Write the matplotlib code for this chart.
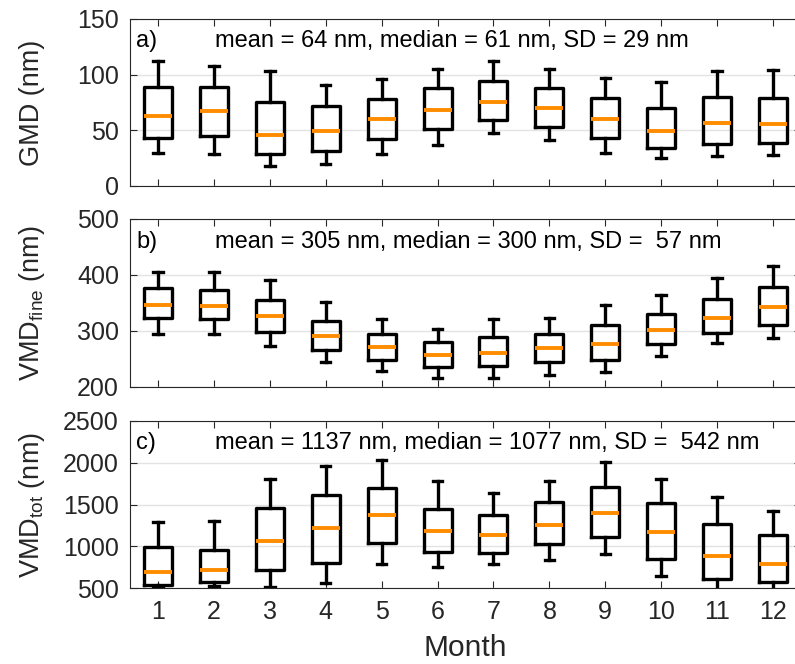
import numpy as np
import matplotlib
matplotlib.use("Agg")
import matplotlib.pyplot as plt

plt.rcParams['font.family'] = ['Liberation Sans', 'DejaVu Sans']
plt.rcParams['mathtext.fontset'] = 'custom'
plt.rcParams['mathtext.rm'] = 'Liberation Sans'

months = list(range(1, 13))

# GMD box statistics per month (nm): whisker low, Q1, median, Q3, whisker high
gmd_low = [30, 29, 18, 20, 29, 37, 48, 41, 30, 25, 27, 28]
gmd_q1 = [43, 45, 29, 31, 42, 51, 59, 53, 43, 34, 38, 39]
gmd_med = [63, 67, 46, 49, 60, 68, 75, 70, 60, 49, 57, 56]
gmd_q3 = [89, 89, 75, 72, 78, 88, 94, 88, 79, 70, 80, 79]
gmd_high = [112, 108, 103, 91, 96, 105, 112, 105, 97, 93, 103, 104]

# VMD fine mode
fine_low = [295, 295, 274, 245, 229, 216, 216, 221, 226, 255, 278, 287]
fine_q1 = [323, 321, 298, 266, 248, 235, 238, 245, 249, 277, 296, 311]
fine_med = [347, 345, 326, 291, 271, 258, 261, 269, 277, 301, 324, 342]
fine_q3 = [376, 373, 355, 317, 295, 281, 289, 294, 311, 331, 358, 378]
fine_high = [406, 406, 391, 352, 321, 304, 321, 324, 346, 364, 394, 416]

# VMD total
tot_low = [520, 520, 512, 556, 787, 747, 783, 831, 906, 647, 450, 480]
tot_q1 = [536, 572, 719, 803, 1034, 934, 922, 1022, 1110, 851, 608, 572]
tot_med = [687, 715, 1062, 1217, 1369, 1177, 1137, 1253, 1396, 1165, 878, 783]
tot_q3 = [990, 958, 1456, 1608, 1703, 1452, 1380, 1528, 1715, 1520, 1265, 1129]
tot_high = [1293, 1301, 1807, 1958, 2034, 1783, 1643, 1779, 2006, 1811, 1588, 1428]

panels = [
    ("a)", "mean = 64 nm, median = 61 nm, SD = 29 nm", "GMD (nm)",
     (gmd_low, gmd_q1, gmd_med, gmd_q3, gmd_high), (0, 150), [0, 50, 100, 150]),
    ("b)", "mean = 305 nm, median = 300 nm, SD =  57 nm", r"VMD$_\mathregular{fine}$ (nm)",
     (fine_low, fine_q1, fine_med, fine_q3, fine_high), (200, 500), [200, 300, 400, 500]),
    ("c)", "mean = 1137 nm, median = 1077 nm, SD =  542 nm", r"VMD$_\mathregular{tot}$ (nm)",
     (tot_low, tot_q1, tot_med, tot_q3, tot_high), (500, 2500), [500, 1000, 1500, 2000, 2500]),
]

W, H = 795, 664
fig = plt.figure(figsize=(W / 100, H / 100), dpi=100)

# axes boxes in pixels: (top, bottom)
rows = [(19, 186), (219, 387), (421, 588)]
left_px, right_px = 130, 801
axis_col = '#262626'

for i, ((tag, stat_txt, ylab, vals, ylim, yticks), (top, bot)) in enumerate(zip(panels, rows)):
    ax = fig.add_axes([left_px / W, 1 - bot / H, (right_px - left_px) / W, (bot - top) / H])
    lo, q1, med, q3, hi = vals
    stats = [dict(whislo=lo[k], q1=q1[k], med=med[k], q3=q3[k], whishi=hi[k], fliers=[])
             for k in range(len(months))]
    ax.bxp(stats, positions=months, widths=0.5, capwidths=0.17, showfliers=False,
           boxprops=dict(color='k', lw=2.4),
           whiskerprops=dict(color='k', lw=2.4),
           capprops=dict(color='k', lw=2.4),
           medianprops=dict(color='#FF8C00', lw=2.8, solid_capstyle='butt'))
    ax.set_xlim(0.5, 12.5)
    ax.set_ylim(*ylim)
    ax.set_yticks(yticks)
    ax.set_xticks(months)
    ax.yaxis.grid(True, color='#e3e3e3', lw=1)
    ax.set_axisbelow(True)
    ax.tick_params(direction='in', top=True, right=True, length=5, width=0.8,
                   labelsize=18, colors=axis_col, labelcolor=axis_col)
    ax.tick_params(axis='y', pad=8)
    for s in ax.spines.values():
        s.set_color(axis_col)
        s.set_linewidth(0.8)
    if i < 2:
        ax.set_xticklabels([])
    else:
        ax.set_xticklabels([str(m) for m in months])
        ax.tick_params(axis='x', pad=8.5)
        ax.set_xlabel("Month", fontsize=21.5, color=axis_col, va='center')
        ax.xaxis.set_label_coords(0.5, -0.359)
    ax.set_ylabel(ylab, fontsize=19.5, color=axis_col, va='center')
    ax.yaxis.set_label_coords(-0.146, 0.5)
    ax.text(0.009, 0.83, tag, transform=ax.transAxes, fontsize=17, va='baseline', ha='left')
    ax.text(0.127, 0.83, stat_txt, transform=ax.transAxes, fontsize=17, va='baseline', ha='left')

fig.savefig("out.png", dpi=100)
